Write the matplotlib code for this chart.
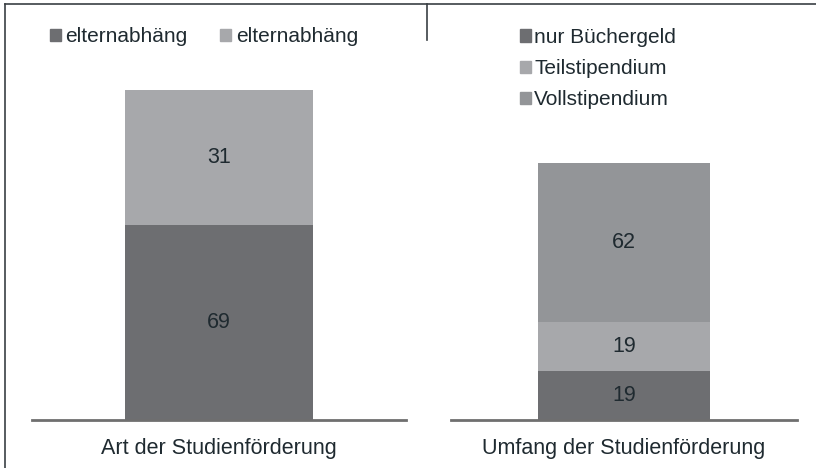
import matplotlib
matplotlib.use("Agg")
import matplotlib.pyplot as plt
from matplotlib.patches import Rectangle
from matplotlib.lines import Line2D

plt.rcParams['font.family'] = ['Liberation Sans', 'DejaVu Sans']

# Data
left_category = "Art der Studienförderung"
left_series = ["elternabhäng", "elternabhäng"]
left_values = [69, 31]

right_category = "Umfang der Studienförderung"
right_series = ["nur Büchergeld", "Teilstipendium", "Vollstipendium"]
right_values = [19, 19, 62]

left_colors = ["#6d6e71", "#a7a8ab"]
right_colors = ["#6d6e71", "#a7a8ab", "#939598"]
text_color = "#1f2a30"

W, H = 816, 468
fig = plt.figure(figsize=(W / 100, H / 100), dpi=100)

def px_axes(x0, x1, ybot, ytop):
    return fig.add_axes([x0 / W, 1 - ybot / H, (x1 - x0) / W, (ybot - ytop) / H])

def stacked(ax, values, colors, width, ylim, category):
    ax.set_xlim(-0.5, 0.5)
    ax.set_ylim(*ylim)
    bottom = 0
    for v, c in zip(values, colors):
        ax.bar(0, v, bottom=bottom, width=width, color=c, edgecolor='none', zorder=2)
        lo = max(bottom, ylim[0])
        ax.text(0, (lo + bottom + v) / 2, str(v), ha='center', va='center',
                fontsize=15.5, color=text_color, zorder=3)
        bottom += v
    ax.axhline(ylim[0], color='#6f6f6f', lw=2.0, zorder=4, clip_on=False)
    for s in ax.spines.values():
        s.set_visible(False)
    ax.set_yticks([])
    ax.set_xticks([0])
    ax.set_xticklabels([category], fontsize=15.5, color=text_color)
    ax.tick_params(axis='x', length=0, pad=13)

ax1 = px_axes(32, 406, 420.3, 40)
stacked(ax1, left_values, left_colors, 0.505, (24, 24 + 380.3 / 4.346), left_category)

ax2 = px_axes(451, 797, 420.3, 40)
stacked(ax2, right_values, right_colors, 0.497, (0, 380.3 / 2.575), right_category)

# Legends
h1 = [Rectangle((0, 0), 1, 1, color=c) for c in left_colors]
fig.legend(h1, left_series, loc='center left', bbox_to_anchor=(50 / W, 1 - 37 / H),
           ncol=2, frameon=False, fontsize=15, handlelength=0.53, handleheight=0.53,
           handletextpad=0.22, columnspacing=1.55, borderpad=0, borderaxespad=0,
           labelcolor=text_color)

h2 = [Rectangle((0, 0), 1, 1, color=c) for c in right_colors]
fig.legend(h2, right_series, loc='upper left', bbox_to_anchor=(520 / W, 1 - 28 / H),
           ncol=1, frameon=False, fontsize=15, handlelength=0.53, handleheight=0.53,
           handletextpad=0.15, labelspacing=0.58, borderpad=0, borderaxespad=0,
           labelcolor=text_color)

# Frame lines (top and left) and divider
fig.add_artist(Line2D([5 / W, 1], [1 - 4 / H, 1 - 4 / H], transform=fig.transFigure,
                      color='#3a3f44', lw=1.2))
fig.add_artist(Line2D([5 / W, 5 / W], [1 - 4 / H, 0], transform=fig.transFigure,
                      color='#3a3f44', lw=1.2))
fig.add_artist(Line2D([427 / W, 427 / W], [1 - 4 / H, 1 - 40 / H], transform=fig.transFigure,
                      color='#3a3f44', lw=1.2))

fig.savefig("out.png", dpi=100)
